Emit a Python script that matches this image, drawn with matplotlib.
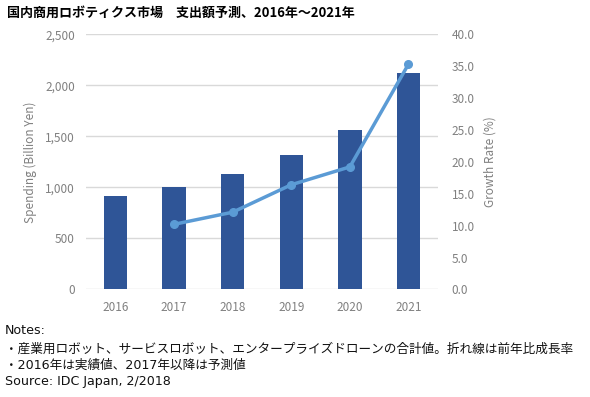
import matplotlib
matplotlib.use("Agg")
import matplotlib.pyplot as plt
from matplotlib.ticker import FuncFormatter

plt.rcParams['font.family'] = ['Noto Sans CJK JP', 'DejaVu Sans']

years = ['2016', '2017', '2018', '2019', '2020', '2021']
spending = [912, 1003, 1127, 1313, 1564, 2121]
growth_years = ['2017', '2018', '2019', '2020', '2021']
growth = [10.2, 12.1, 16.4, 19.2, 35.3]

bar_color = '#2F5597'
line_color = '#5B9BD5'
tick_color = '#808080'

fig = plt.figure(figsize=(5.9, 3.97), dpi=100)
ax = fig.add_axes([0.146, 0.271, 0.596, 0.643])
x = list(range(len(years)))
ax.bar(x, spending, width=0.4, color=bar_color, zorder=2)
ax.set_ylim(0, 2500)
ax.set_xlim(-0.5, len(years) - 0.5)
ax.set_yticks(range(0, 2501, 500))
ax.yaxis.set_major_formatter(FuncFormatter(lambda v, p: f'{int(v):,}'))
ax.set_xticks(x)
ax.set_xticklabels(years)
ax.grid(axis='y', color='#D9D9D9', linewidth=1, zorder=0)
for s in ax.spines.values():
    s.set_visible(False)
ax.tick_params(length=0, colors=tick_color, labelsize=8.5, pad=8)
ax.set_ylabel('Spending (Billion Yen)', color=tick_color, fontsize=8.5, labelpad=6)

ax2 = ax.twinx()
gx = [years.index(y) for y in growth_years]
ax2.plot(gx, growth, color=line_color, linewidth=2.5, marker='o', markersize=5.5, zorder=3)
ax2.set_ylim(0, 40)
ax2.set_yticks(range(0, 41, 5))
ax2.yaxis.set_major_formatter(FuncFormatter(lambda v, p: f'{v:.1f}'))
for s in ax2.spines.values():
    s.set_visible(False)
ax2.tick_params(length=0, colors=tick_color, labelsize=8.5, pad=10)
ax2.set_ylabel('Growth Rate (%)', color=tick_color, fontsize=8.5, labelpad=6)

fig.text(0.012, 0.968, '国内商用ロボティクス市場　支出額予測、2016年～2021年',
         fontsize=9.4, fontweight='bold', va='center', ha='left')

notes = ['Notes:',
         '・産業用ロボット、サービスロボット、エンタープライズドローンの合計値。折れ線は前年比成長率',
         '・2016年は実績値、2017年以降は予測値',
         'Source: IDC Japan, 2/2018']
ys = [330, 349, 365, 381]
for t, yy in zip(notes, ys):
    fig.text(0.008, 1 - yy / 397, t, fontsize=9.1, va='center', ha='left', color='#111111',
             family=['DejaVu Sans', 'Noto Sans CJK JP'])

fig.savefig('out.png', dpi=100)
